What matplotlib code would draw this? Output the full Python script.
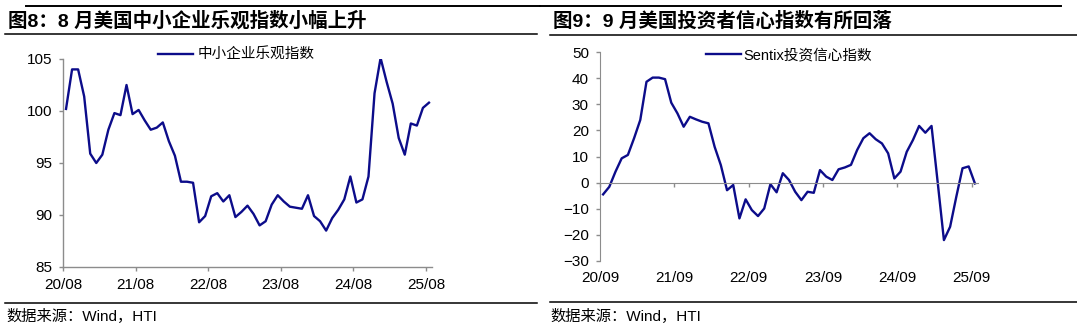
import matplotlib
matplotlib.use("Agg")
import matplotlib.pyplot as plt
from matplotlib.lines import Line2D

plt.rcParams['font.family'] = ['Liberation Sans', 'Noto Sans CJK SC']

# NFIB small business optimism, monthly 2020/08 - 2025/08
nfib = [100.2, 104.0, 104.0, 101.4, 95.9,
        95.0, 95.8, 98.2, 99.8, 99.6, 102.5, 99.7, 100.1, 99.1, 98.2, 98.4, 98.9,
        97.1, 95.7, 93.2, 93.2, 93.1, 89.3, 89.9, 91.8, 92.1, 91.3, 91.9, 89.8,
        90.3, 90.9, 90.1, 89.0, 89.4, 91.0, 91.9, 91.3, 90.8, 90.7, 90.6, 91.9,
        89.9, 89.4, 88.5, 89.7, 90.5, 91.5, 93.7, 91.2, 91.5, 93.7, 101.7, 105.1,
        102.8, 100.7, 97.4, 95.8, 98.8, 98.6, 100.3, 100.8]
nfib_ticks = ['20/08', '21/08', '22/08', '23/08', '24/08', '25/08']

# Sentix investor confidence, monthly 2020/09 - 2025/09
sentix = [-4.5, -1.6, 4.2, 9.3, 10.6, 17.0, 24.0, 38.6, 40.2, 40.2, 39.6, 30.6,
          26.5, 21.4, 25.2, 24.2, 23.3, 22.7, 13.7, 6.7, -2.9, -0.9, -13.7, -6.4,
          -10.5, -12.8, -9.9, -0.6, -3.7, 3.6, 1.0, -3.5, -6.7, -3.5, -3.9, 4.8,
          2.3, 1.0, 5.1, 5.8, 6.8, 12.5, 17.0, 18.9, 16.6, 15.0, 11.2, 1.6,
          4.2, 11.8, 16.3, 21.7, 19.1, 21.7, 0.0, -22.0, -16.9, -5.4, 5.5, 6.2, -0.3]
sentix_ticks = ['20/09', '21/09', '22/09', '23/09', '24/09', '25/09']

W, H = 1077, 327
LINE = '#0c0c8a'
GRAY = '#8c8c8c'
fig = plt.figure(figsize=(W / 100, H / 100), dpi=100)


def fx(x):
    return x / W


def fy(y):
    return 1 - y / H


def hline(x0, x1, y, lw):
    fig.add_artist(Line2D([fx(x0), fx(x1)], [fy(y), fy(y)], color='black', lw=lw,
                          transform=fig.transFigure))


# ---- headers / footers
hline(26, 540, 6, 1.4)
hline(5, 537, 34, 1.1)
hline(540, 1061, 6, 1.4)
hline(550, 1077, 35, 1.1)
hline(5, 537, 303, 1.1)
hline(550, 1077, 302, 1.1)

title_font = ['Liberation Sans', 'Noto Sans CJK SC']
fig.text(fx(8), fy(21), '图8：8 月美国中小企业乐观指数小幅上升', fontsize=14, fontweight='bold',
         va='center', ha='left', family=title_font)
fig.text(fx(553), fy(21), '图9：9 月美国投资者信心指数有所回落', fontsize=14, fontweight='bold',
         va='center', ha='left', family=title_font)
fig.text(fx(6), fy(316), '数据来源：Wind，HTI', fontsize=11, va='center', ha='left')
fig.text(fx(550), fy(316), '数据来源：Wind，HTI', fontsize=11, va='center', ha='left')

# ---- left panel
ax1 = fig.add_axes([fx(63), fy(267), (432 - 63) / W, (267 - 59) / H])
x1 = [i + 0.5 for i in range(len(nfib))]
ax1.plot(x1, nfib, color=LINE, lw=1.7, label='中小企业乐观指数')
ax1.set_xlim(0, 61)
ax1.set_ylim(85, 105)
ax1.set_yticks([85, 90, 95, 100, 105])
ax1.set_xticks([0, 12, 24, 36, 48, 60])
ax1.set_xticklabels(nfib_ticks)
for s in ['top', 'right']:
    ax1.spines[s].set_visible(False)
for s in ['left', 'bottom']:
    ax1.spines[s].set_color(GRAY)
    ax1.spines[s].set_linewidth(1.0)
ax1.tick_params(axis='both', colors=GRAY, labelcolor='black', labelsize=11, length=3, width=1.0)
ax1.tick_params(axis='y', pad=5)
ax1.tick_params(axis='x', pad=5)
ax1.legend(loc='center left', bbox_to_anchor=(fx(158), fy(55)), bbox_transform=fig.transFigure,
           frameon=False, fontsize=10.5, handlelength=2.4, handletextpad=0.3,
           borderpad=0, borderaxespad=0)

# ---- right panel
ax2 = fig.add_axes([fx(600), fy(261), (978 - 600) / W, (261 - 52) / H])
x2 = [i + 0.5 for i in range(len(sentix))]
ax2.plot(x2, sentix, color=LINE, lw=1.7, label='Sentix投资信心指数')
ax2.set_xlim(0, 61)
ax2.set_ylim(-30, 50)
ax2.set_yticks(range(-30, 51, 10))
ax2.set_xticks([0, 12, 24, 36, 48, 60])
ax2.set_xticklabels([])
for s in ['top', 'right']:
    ax2.spines[s].set_visible(False)
ax2.spines['left'].set_color(GRAY)
ax2.spines['bottom'].set_color(GRAY)
ax2.spines['bottom'].set_position(('data', 0))
ax2.tick_params(axis='both', colors=GRAY, labelcolor='black', labelsize=11, length=3, width=1.0)
ax2.tick_params(axis='y', pad=5)
sec = ax2.secondary_xaxis('bottom')
sec.set_xticks([0, 12, 24, 36, 48, 60])
sec.set_xticklabels(sentix_ticks)
sec.spines['bottom'].set_visible(False)
sec.tick_params(axis='x', length=0, labelsize=11, pad=7)
ax2.legend(loc='center left', bbox_to_anchor=(fx(706), fy(55)), bbox_transform=fig.transFigure,
           frameon=False, fontsize=10.5, handlelength=2.4, handletextpad=0.15,
           borderpad=0, borderaxespad=0)

fig.savefig('out.png', dpi=100)
